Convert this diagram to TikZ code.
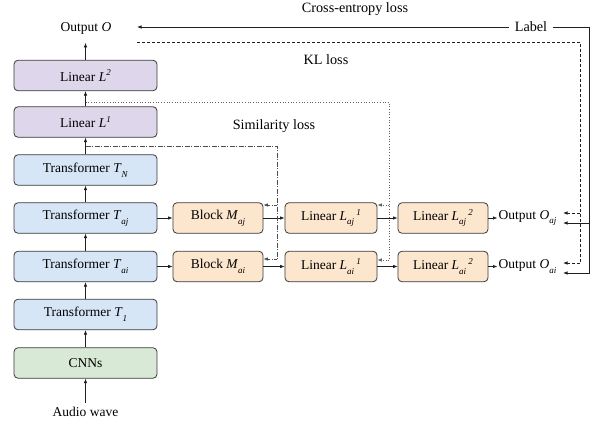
\documentclass[tikz,border=0pt]{standalone}
\usepackage{fontspec}
\setmainfont{Liberation Serif}
\newfontfamily\tms{Liberation Serif}
\usetikzlibrary{arrows.meta,calc}
\definecolor{bord}{HTML}{3A3A3A}
\definecolor{lin}{HTML}{202020}
\definecolor{cblue}{HTML}{D6E6F6}
\definecolor{cpurp}{HTML}{DED6EA}
\definecolor{corange}{HTML}{FDE6CE}
\definecolor{cgreen}{HTML}{D8EAD5}
\newcommand{\sbs}[1]{\raisebox{-0.75ex}{\fontsize{9}{9}\selectfont\textit{#1}}}
\newcommand{\sps}[1]{\raisebox{0.85ex}{\fontsize{9}{9}\selectfont\textit{#1}}}
\begin{document}
\begin{tikzpicture}[x=1pt,y=-1pt,
  every node/.style={font=\tms\fontsize{13.5}{16}\selectfont},
  box/.style={draw=bord, line width=0.8pt, rounded corners=4pt, minimum height=30.5pt, inner sep=0pt},
  lbox/.style={box, minimum width=143pt},
  sbox/.style={box, minimum width=90pt, fill=corange},
  arr/.style={draw=lin, line width=0.7pt, -{Latex[length=4.5pt,width=3.5pt]}},
  txt/.style={inner sep=1pt},
  losstxt/.style={inner sep=1pt, font=\tms\fontsize{14.2}{16}\selectfont}
]
\useasboundingbox (0,0) rectangle (598,423);
% left column
\node[lbox, fill=cpurp] (l2) at (85.5,75.5) {Linear \textit{L}\sps{2}};
\node[lbox, fill=cpurp] (l1) at (85.5,122) {Linear \textit{L}\sps{1}};
\node[lbox, fill=cblue] (tn) at (85.5,170) {Transformer \textit{T}\sbs{N}};
\node[lbox, fill=cblue] (taj) at (85.5,218) {Transformer \textit{T}\sbs{aj}};
\node[lbox, fill=cblue] (tai) at (85.5,266.5) {Transformer \textit{T}\sbs{ai}};
\node[lbox, fill=cblue] (t1) at (85.5,314.5) {Transformer \textit{T}\sbs{1}};
\node[lbox, fill=cgreen] (cnn) at (85.5,363) {CNNs};
\node[txt] (audio) at (85.5,412) {Audio wave};
\node[txt] (out) at (86,28) {Output \textit{O}};
% right rows
\node[sbox] (maj) at (218,218) {Block \textit{M}\sbs{aj}};
\node[sbox] (mai) at (218,266.5) {Block \textit{M}\sbs{ai}};
\node[sbox, minimum width=92pt] (laj1) at (331,218) {Linear \textit{L}\sbs{aj}\,\sps{1}};
\node[sbox, minimum width=92pt] (lai1) at (331,266.5) {Linear \textit{L}\sbs{ai}\,\sps{1}};
\node[sbox] (laj2) at (443,218) {Linear \textit{L}\sbs{aj}\,\sps{2}};
\node[sbox] (lai2) at (443,266.5) {Linear \textit{L}\sbs{ai}\,\sps{2}};
\node[txt, anchor=west] (oaj) at (497.5,218) {Output \textit{O}\sbs{aj}};
\node[txt, anchor=west] (oai) at (497.5,266.5) {Output \textit{O}\sbs{ai}};
% labels
\node[losstxt] (ce) at (355,9) {Cross-entropy loss};
\node[losstxt, inner xsep=6pt] (lab) at (531,27) {Label};
\node[losstxt] (kl) at (326,60) {KL loss};
\node[losstxt] (sim) at (274,126) {Similarity loss};
% vertical arrows
\draw[arr, shorten <=3pt] (audio.north) -- (cnn.south);
\draw[arr] (cnn.north) -- (t1.south);
\draw[arr] (t1.north) -- (tai.south);
\draw[arr] (tai.north) -- (taj.south);
\draw[arr] (taj.north) -- (tn.south);
\draw[arr] (tn.north) -- (l1.south);
\draw[arr] (l1.north) -- (l2.south);
\draw[arr] (l2.north) -- ++(0,-17) coordinate (outin);
% horizontal arrows
\draw[arr] (taj.east) -- (maj.west);
\draw[arr] (maj.east) -- (laj1.west);
\draw[arr] (laj1.east) -- (laj2.west);
\draw[arr] (laj2.east) -- (oaj.west);
\draw[arr] (tai.east) -- (mai.west);
\draw[arr] (mai.east) -- (lai1.west);
\draw[arr] (lai1.east) -- (lai2.west);
\draw[arr] (lai2.east) -- (oai.west);
% coordinates for loss lines
\coordinate (ceend) at (137,27);
\coordinate (klend) at (137,42);
\coordinate (ojs) at (563,223);
\coordinate (ois) at (563,273);
\coordinate (ojd) at (563,213);
\coordinate (oid) at (563,263);
% cross-entropy (solid)
\draw[arr] (lab.west) -- (ceend);
\draw[arr] (lab.east) -- (589,27) -- (589,273) -- (ois);
\draw[arr] (589,223) -- (ojs);
% KL (dashed)
\draw[arr, dash pattern=on 3pt off 2pt, -] (klend) -- (580,42) -- (580,263);
\draw[arr, dash pattern=on 3pt off 2pt] (580,263) -- (oid);
\draw[arr, dash pattern=on 3pt off 2pt] (580,213) -- (ojd);
% dotted
\draw[draw=lin!70, line width=0.7pt, dotted] (85.5,102) -- (389,102) -- (389,260);
\draw[arr, draw=lin!70, dotted] (389,260) -- (lai1.east |- 0,260);
\draw[arr, draw=lin!70, dotted] (389,205) -- (laj1.east |- 0,205);
% dash-dot
\draw[draw=lin!80, line width=0.7pt, dash pattern=on 5pt off 1.5pt on 1pt off 1.5pt] (85.5,146) -- (277,146) -- (277,259);
\draw[arr, draw=lin!80, dash pattern=on 3pt off 1.5pt on 1pt off 1.5pt] (277,259) -- (mai.east |- 0,259);
\draw[arr, draw=lin!80, dash pattern=on 3pt off 1.5pt on 1pt off 1.5pt] (277,205) -- (maj.east |- 0,205);
\end{tikzpicture}
\end{document}
